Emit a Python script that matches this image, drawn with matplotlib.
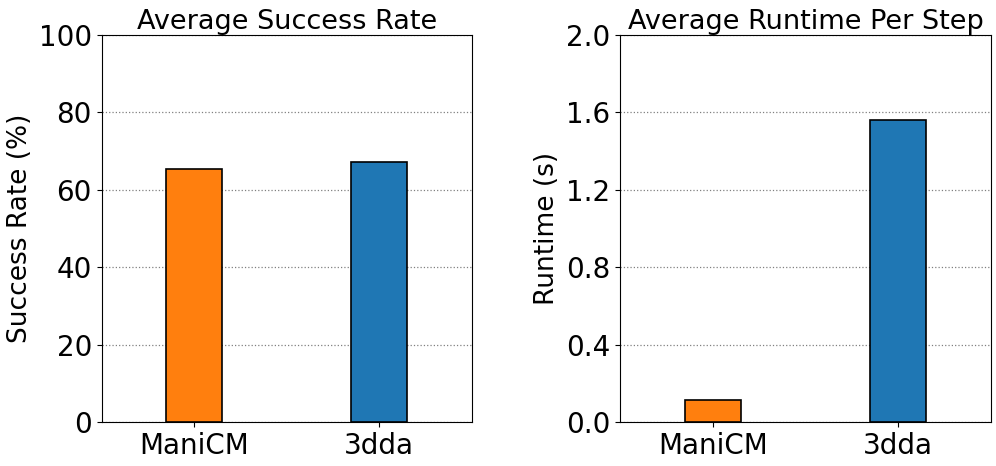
import matplotlib
matplotlib.use("Agg")
import matplotlib.pyplot as plt

methods = ["ManiCM", "3dda"]
success_rate = [65.4, 67.2]
runtime = [0.115, 1.56]
colors = ["#ff7f0e", "#1f77b4"]

fig = plt.figure(figsize=(9.96, 4.66), dpi=100)
ax1 = fig.add_axes([0.1021, 0.0944, 0.3715, 0.8305])
ax2 = fig.add_axes([0.6225, 0.0944, 0.3725, 0.8305])

panels = (
    (ax1, success_rate, "Average Success Rate", "Success Rate (%)",
     (0, 100), [0, 20, 40, 60, 80, 100], ["0", "20", "40", "60", "80", "100"]),
    (ax2, runtime, "Average Runtime Per Step", "Runtime (s)",
     (0, 2.0), [0, 0.4, 0.8, 1.2, 1.6, 2.0],
     ["0.0", "0.4", "0.8", "1.2", "1.6", "2.0"]),
)
for ax, vals, title, ylabel, ylim, ticks, labels in panels:
    ax.bar(range(len(methods)), vals, width=0.3, color=colors,
           edgecolor="black", linewidth=1.2, zorder=3)
    ax.set_xlim(-0.5, 1.5)
    ax.set_ylim(*ylim)
    ax.set_yticks(ticks)
    ax.set_yticklabels(labels)
    ax.set_xticks(range(len(methods)))
    ax.set_xticklabels(methods)
    ax.tick_params(labelsize=20)
    ax.set_title(title, fontsize=19.5, pad=4)
    ax.set_ylabel(ylabel, fontsize=19)
    ax.yaxis.grid(True, linestyle=":", color="gray", linewidth=0.9, zorder=0)

fig.savefig("out.png", dpi=100)
